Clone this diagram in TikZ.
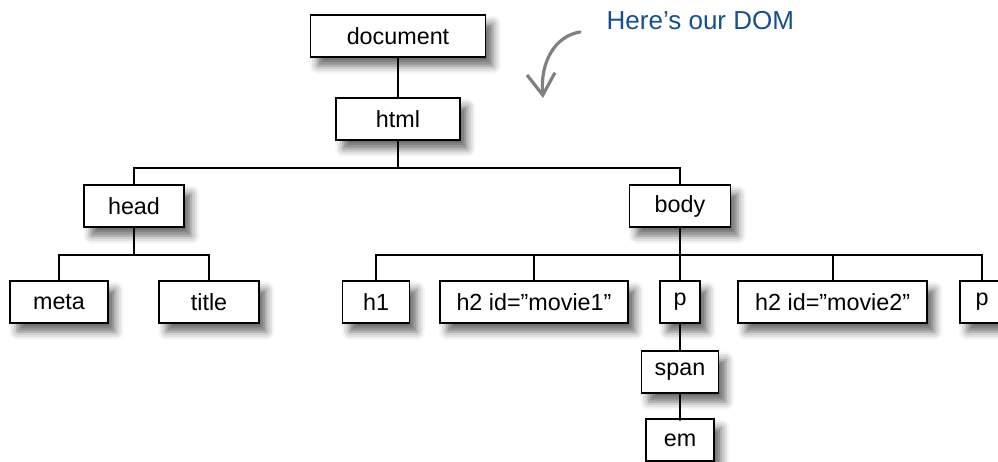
\documentclass[tikz,border=0pt]{standalone}
\usepackage{fontspec}
\setmainfont{Liberation Sans}
\usetikzlibrary{trees,shadows.blur,arrows.meta}

\definecolor{notecolor}{RGB}{24,78,142}
\definecolor{arrowgrey}{RGB}{128,128,128}

\tikzset{
    domnode/.style={draw, line width=1.1pt, fill=white, minimum height=31.5pt, inner xsep=2pt,
        font=\fontsize{17.5}{20}\selectfont,
        blur shadow={shadow xshift=5.5pt, shadow yshift=-6.5pt, shadow blur radius=6pt, shadow opacity=60}},
    wd/.style={minimum width=#1*0.75pt}
}

\begin{document}
\begin{tikzpicture}[x=0.75pt,y=0.75pt,
    every child node/.style={domnode},
    edge from parent/.style={draw, line width=1.5pt},
    edge from parent path={(\tikzparentnode.south) -- ++(0,-20.25pt) -| (\tikzchildnode.north)},
    level 1/.style={level distance=62.25pt},
    level 2/.style={level distance=65.25pt,sibling distance=409.5pt},
    level 3/.style={level distance=72pt,sibling distance=112.5pt},
    level 4/.style={level distance=52.5pt},
    level 5/.style={level distance=51pt}]
\clip (0,0) rectangle (998,-461);
\node[domnode,wd=175] (doc) at (398,-36) {document}
    child {node[wd=124] (html) {html}
        child[xshift=6.75pt] {node[wd=100] (head) {head}
            child {node[wd=98] (meta) {meta} }
            child {node[wd=100] (title) {title} }
        }
        child[xshift=6.75pt] {node[wd=101] (body) {body}
            child[xshift=-3pt] {node[wd=67] (h1) {h1} }
            child[xshift=3pt] {node[wd=188] (h2a) {h2 id=”movie1”} }
            child {node[wd=40] (p1) {p}
                child {node[wd=77] (span) {span}
                    child {node[wd=68] (em) {em} }
                }
            }
            child[xshift=2pt] {node[wd=189] (h2b) {h2 id=”movie2”} }
            child[xshift=1.5pt] {node[wd=44] (p2) {p} }
        }
    };

% note on the DOM
\node[text=notecolor, font=\fontsize{19.5}{22}\selectfont, anchor=west] (note) at (602,-21) {Here’s our DOM};
\coordinate (arrowstart) at (580,-32);
\coordinate (arrowtip) at (543,-98);
\draw[arrowgrey, line width=2.4pt, line cap=round, -{Straight Barb[length=16pt,width=21pt]}]
    (arrowstart) .. controls (555,-36) and (540,-62) .. (arrowtip);
\end{tikzpicture}
\end{document}
